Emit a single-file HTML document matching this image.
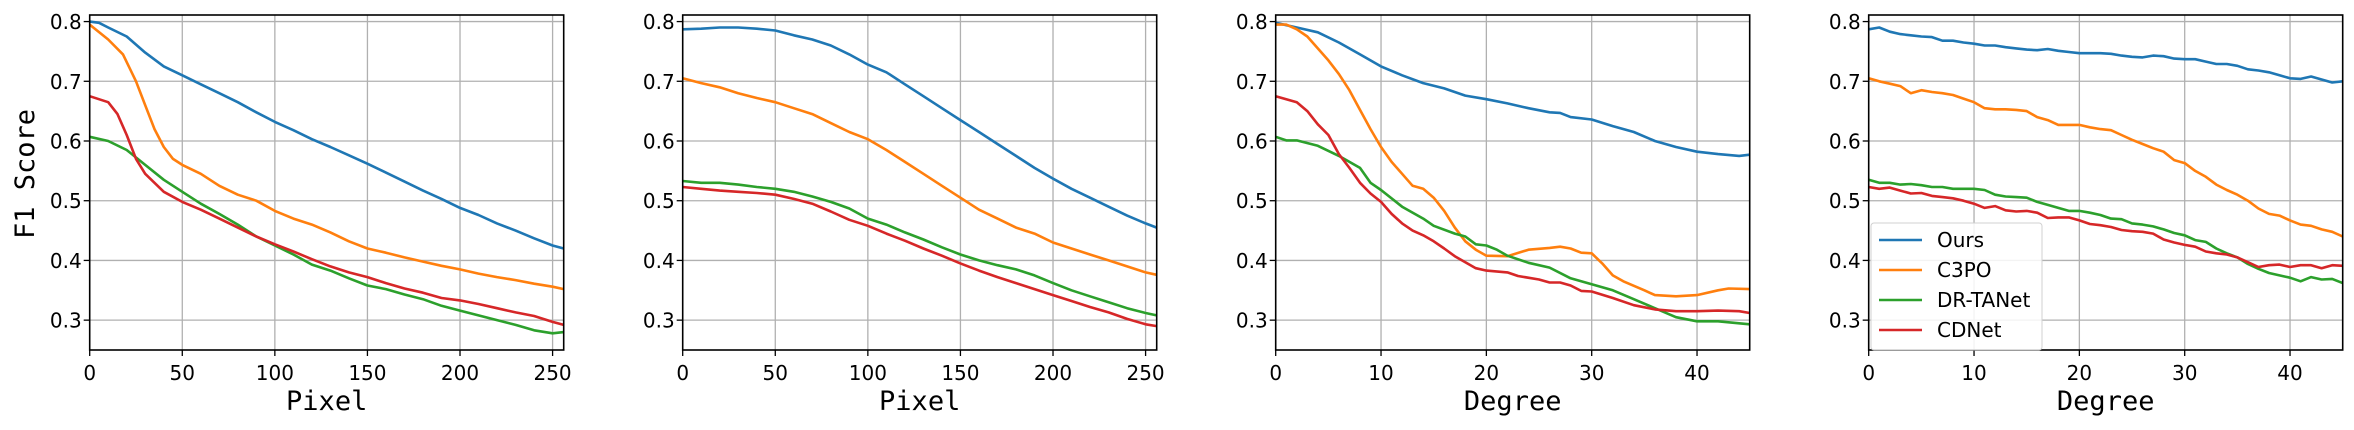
<!DOCTYPE html>
<html><head><meta charset="utf-8">
<style>
html,body{margin:0;padding:0;background:#fff;}
svg{display:block;}
</style></head>
<body>
<svg id="chart" width="2354" height="430" viewBox="0 0 2354 430" xmlns="http://www.w3.org/2000/svg"></svg>
<script>
// ---------- data ----------
const seriesNames = ["Ours", "C3PO", "DR-TANet", "CDNet"];
const yTicks = [0.3, 0.4, 0.5, 0.6, 0.7, 0.8];
const yTickLabels = ["0.3", "0.4", "0.5", "0.6", "0.7", "0.8"];
const pixelTicks = [0, 50, 100, 150, 200, 250];
const degreeTicks = [0, 10, 20, 30, 40];
const xLabels = ["Pixel", "Pixel", "Degree", "Degree"];

// Panel 1 (Pixel)
const p1OursX = [0,5,10,20,30,40,50,60,70,80,90,100,110,120,130,140,150,160,170,180,190,200,210,220,230,240,250,256];
const p1OursY = [0.80,0.798,0.79,0.775,0.748,0.725,0.71,0.695,0.68,0.665,0.648,0.632,0.618,0.603,0.59,0.576,0.562,0.547,0.532,0.517,0.503,0.488,0.476,0.462,0.45,0.437,0.425,0.42];
const p1C3poX = [0,10,18,25,30,35,40,45,50,60,70,80,90,100,110,120,130,140,150,160,170,180,190,200,210,220,230,240,250,256];
const p1C3poY = [0.795,0.77,0.745,0.70,0.66,0.62,0.59,0.57,0.56,0.545,0.525,0.51,0.50,0.483,0.47,0.46,0.447,0.432,0.42,0.413,0.405,0.398,0.391,0.385,0.378,0.372,0.367,0.361,0.356,0.352];
const p1DrX = [0,10,20,30,40,50,60,70,80,90,100,110,120,130,140,150,160,170,180,190,200,210,220,230,240,250,256];
const p1DrY = [0.607,0.60,0.585,0.56,0.535,0.515,0.495,0.478,0.46,0.44,0.425,0.41,0.393,0.383,0.37,0.358,0.352,0.343,0.335,0.324,0.316,0.308,0.30,0.292,0.283,0.278,0.28];
const p1CdX = [0,10,15,20,25,30,40,50,60,70,80,90,100,110,120,130,140,150,160,170,180,190,200,210,220,230,240,250,256];
const p1CdY = [0.675,0.665,0.645,0.61,0.57,0.545,0.515,0.498,0.485,0.47,0.455,0.44,0.427,0.415,0.402,0.39,0.38,0.372,0.362,0.353,0.346,0.337,0.333,0.327,0.32,0.313,0.307,0.297,0.292];

// Panel 2 (Pixel)
const p2X = [0,10,20,30,40,50,60,70,80,90,100,110,120,130,140,150,160,170,180,190,200,210,220,230,240,250,256];
const p2OursY = [0.787,0.788,0.79,0.79,0.788,0.785,0.777,0.77,0.76,0.745,0.728,0.715,0.695,0.675,0.655,0.635,0.615,0.595,0.575,0.555,0.537,0.52,0.505,0.49,0.475,0.462,0.455];
const p2C3poY = [0.705,0.697,0.69,0.68,0.672,0.665,0.655,0.645,0.63,0.615,0.603,0.585,0.565,0.545,0.525,0.505,0.485,0.47,0.455,0.445,0.43,0.42,0.41,0.40,0.39,0.38,0.376];
const p2DrY = [0.533,0.53,0.53,0.527,0.523,0.52,0.515,0.507,0.498,0.487,0.47,0.46,0.447,0.435,0.422,0.41,0.40,0.392,0.385,0.375,0.362,0.35,0.34,0.33,0.32,0.312,0.308];
const p2CdY = [0.523,0.52,0.517,0.515,0.513,0.51,0.503,0.495,0.482,0.468,0.458,0.445,0.433,0.42,0.408,0.395,0.383,0.372,0.362,0.352,0.342,0.332,0.322,0.313,0.302,0.293,0.29];

// Panel 3 (Degree)
const p3OursX = [0,2,4,6,8,10,12,14,16,18,20,22,24,26,27,28,30,32,34,36,38,40,42,44,45];
const p3OursY = [0.798,0.79,0.782,0.765,0.745,0.725,0.71,0.697,0.688,0.676,0.67,0.663,0.655,0.648,0.647,0.64,0.636,0.625,0.615,0.60,0.59,0.582,0.578,0.575,0.577];
const p3C3poX = [0,1,2,3,4,5,6,7,8,9,10,11,12,13,14,15,16,17,18,19,20,22,24,26,27,28,29,30,31,32,33,35,36,38,40,42,43,45];
const p3C3poY = [0.795,0.795,0.787,0.775,0.755,0.735,0.712,0.685,0.652,0.62,0.59,0.565,0.545,0.525,0.52,0.505,0.483,0.455,0.432,0.418,0.408,0.407,0.418,0.421,0.423,0.42,0.413,0.412,0.395,0.375,0.365,0.35,0.342,0.34,0.342,0.35,0.353,0.352];
const p3DrX = [0,1,2,4,6,8,9,10,12,14,15,17,18,19,20,21,22,24,26,28,30,32,34,36,38,40,42,45];
const p3DrY = [0.607,0.601,0.601,0.592,0.575,0.555,0.53,0.518,0.49,0.47,0.458,0.445,0.44,0.427,0.425,0.418,0.408,0.396,0.388,0.37,0.36,0.35,0.335,0.32,0.305,0.298,0.298,0.293];
const p3CdX = [0,2,3,4,5,6,7,8,9,10,11,12,13,14,15,16,17,18,19,20,22,23,25,26,27,28,29,30,32,34,36,38,40,42,44,45];
const p3CdY = [0.675,0.665,0.65,0.628,0.61,0.578,0.555,0.53,0.512,0.498,0.478,0.462,0.45,0.442,0.432,0.42,0.407,0.397,0.387,0.383,0.38,0.374,0.368,0.363,0.363,0.358,0.349,0.348,0.337,0.325,0.318,0.315,0.315,0.316,0.315,0.312];

// Panel 4 (Degree)
const p4X = [0,1,2,3,4,5,6,7,8,9,10,11,12,13,14,15,16,17,18,19,20,21,22,23,24,25,26,27,28,29,30,31,32,33,34,35,36,37,38,39,40,41,42,43,44,45];
const p4OursY = [0.787,0.79,0.783,0.779,0.777,0.775,0.774,0.768,0.768,0.765,0.763,0.76,0.76,0.757,0.755,0.753,0.752,0.754,0.751,0.749,0.747,0.747,0.747,0.746,0.743,0.741,0.74,0.743,0.742,0.738,0.737,0.737,0.733,0.729,0.729,0.726,0.72,0.718,0.715,0.71,0.705,0.704,0.708,0.703,0.698,0.70];
const p4C3poY = [0.705,0.70,0.696,0.692,0.68,0.685,0.682,0.68,0.677,0.671,0.665,0.655,0.653,0.653,0.652,0.65,0.64,0.635,0.627,0.627,0.627,0.623,0.62,0.618,0.61,0.602,0.595,0.588,0.582,0.568,0.563,0.55,0.54,0.527,0.518,0.51,0.50,0.487,0.478,0.475,0.467,0.46,0.458,0.452,0.448,0.44];
const p4DrY = [0.535,0.53,0.53,0.527,0.528,0.526,0.523,0.523,0.52,0.52,0.52,0.518,0.51,0.507,0.506,0.505,0.498,0.493,0.488,0.483,0.483,0.48,0.476,0.47,0.469,0.462,0.46,0.457,0.452,0.446,0.442,0.434,0.431,0.42,0.412,0.405,0.394,0.386,0.379,0.375,0.371,0.365,0.372,0.368,0.369,0.362];
const p4CdY = [0.523,0.52,0.522,0.517,0.512,0.513,0.508,0.506,0.504,0.5,0.495,0.488,0.491,0.484,0.482,0.483,0.48,0.471,0.472,0.472,0.467,0.461,0.459,0.456,0.451,0.449,0.448,0.445,0.435,0.43,0.426,0.423,0.415,0.412,0.41,0.405,0.397,0.389,0.392,0.393,0.389,0.392,0.392,0.387,0.392,0.391];

// ---------- drawing ----------
const NS = "http://www.w3.org/2000/svg";
const svgEl = document.getElementById("chart");
const colors = ["#1f77b4", "#ff7f0e", "#2ca02c", "#d62728"];
const panelLefts = [89.7, 682.7, 1275.7, 1868.7];
const panelW = 474, plotTop = 15, plotBottom = 350;
const yMin = 0.25, yMax = 0.811;
const panelData = [
  {xMax: 256, ticks: pixelTicks, series: [[p1OursX,p1OursY],[p1C3poX,p1C3poY],[p1DrX,p1DrY],[p1CdX,p1CdY]]},
  {xMax: 256, ticks: pixelTicks, series: [[p2X,p2OursY],[p2X,p2C3poY],[p2X,p2DrY],[p2X,p2CdY]]},
  {xMax: 45, ticks: degreeTicks, series: [[p3OursX,p3OursY],[p3C3poX,p3C3poY],[p3DrX,p3DrY],[p3CdX,p3CdY]]},
  {xMax: 45, ticks: degreeTicks, series: [[p4X,p4OursY],[p4X,p4C3poY],[p4X,p4DrY],[p4X,p4CdY]]}
];
function mk(tag, attrs, parent) {
  const e = document.createElementNS(NS, tag);
  for (const k in attrs) e.setAttribute(k, attrs[k]);
  (parent || svgEl).appendChild(e);
  return e;
}
const yScale = v => plotBottom - (v - yMin) / (yMax - yMin) * (plotBottom - plotTop);

panelData.forEach((pd, pi) => {
  const L = panelLefts[pi];
  const xScale = v => L + v / pd.xMax * panelW;
  const g = mk("g", {});
  
  
  pd.ticks.forEach(t => {
    const l = mk("line", {x1: xScale(t), x2: xScale(t), y1: plotTop, y2: plotBottom, stroke: "#b0b0b0", "stroke-width": 1.3}, g);
    
    
  });
  yTicks.forEach(t => {
    const l = mk("line", {x1: L, x2: L + panelW, y1: yScale(t), y2: yScale(t), stroke: "#b0b0b0", "stroke-width": 1.3}, g);
    
    
  });
  pd.series.forEach((s, si) => {
    const pts = s[0].map((x, i) => xScale(x).toFixed(1) + "," + yScale(s[1][i]).toFixed(1)).join(" ");
    const pl = mk("polyline", {points: pts, fill: "none", stroke: colors[si], "stroke-width": 2.6, "stroke-linejoin": "round"}, g);
    
    
  });
  const fr = mk("rect", {x: L, y: plotTop, width: panelW, height: plotBottom - plotTop, fill: "none", stroke: "#000", "stroke-width": 1.6}, g);
  
  
  pd.ticks.forEach(t => {
    mk("line", {x1: xScale(t), x2: xScale(t), y1: plotBottom, y2: plotBottom + 6, stroke: "#000", "stroke-width": 1.3}, g);
    const tx = mk("text", {x: xScale(t), y: 380, "text-anchor": "middle", "font-family": "DejaVu Sans, Liberation Sans, sans-serif", "font-size": 20, fill: "#000"}, g);
    tx.textContent = String(t);
    
    
  });
  yTicks.forEach((t, i) => {
    mk("line", {x1: L - 6, x2: L, y1: yScale(t), y2: yScale(t), stroke: "#000", "stroke-width": 1.3}, g);
    const tx = mk("text", {x: L - 8, y: yScale(t) + 7.5, "text-anchor": "end", "font-family": "DejaVu Sans, Liberation Sans, sans-serif", "font-size": 20, fill: "#000"}, g);
    tx.textContent = yTickLabels[i];
    
    
  });
  const xl = mk("text", {x: L + panelW / 2, y: 410, "text-anchor": "middle", "font-family": "DejaVu Sans Mono, Liberation Mono, monospace", "font-size": 27, fill: "#000"}, g);
  xl.textContent = xLabels[pi];
  
  
});

const yt = mk("text", {x: 0, y: 0, transform: "translate(34,174) rotate(-90)", "text-anchor": "middle", "font-family": "DejaVu Sans Mono, Liberation Mono, monospace", "font-size": 27, fill: "#000"});
yt.textContent = "F1 Score";



const lg = mk("g", {});


mk("rect", {x: 1871, y: 223, width: 171, height: 127, rx: 3, fill: "#fff", "fill-opacity": 0.85, stroke: "#d0d0d0", "stroke-width": 1}, lg);
seriesNames.forEach((n, i) => {
  const y = 240 + i * 30;
  const ln = mk("line", {x1: 1879, x2: 1922, y1: y, y2: y, stroke: colors[i], "stroke-width": 2.6}, lg);
  
  
  const t = mk("text", {x: 1937, y: y + 7, "font-family": "DejaVu Sans, Liberation Sans, sans-serif", "font-size": 20, fill: "#000"}, lg);
  t.textContent = n;
  
  
});
</script>
</body></html>
